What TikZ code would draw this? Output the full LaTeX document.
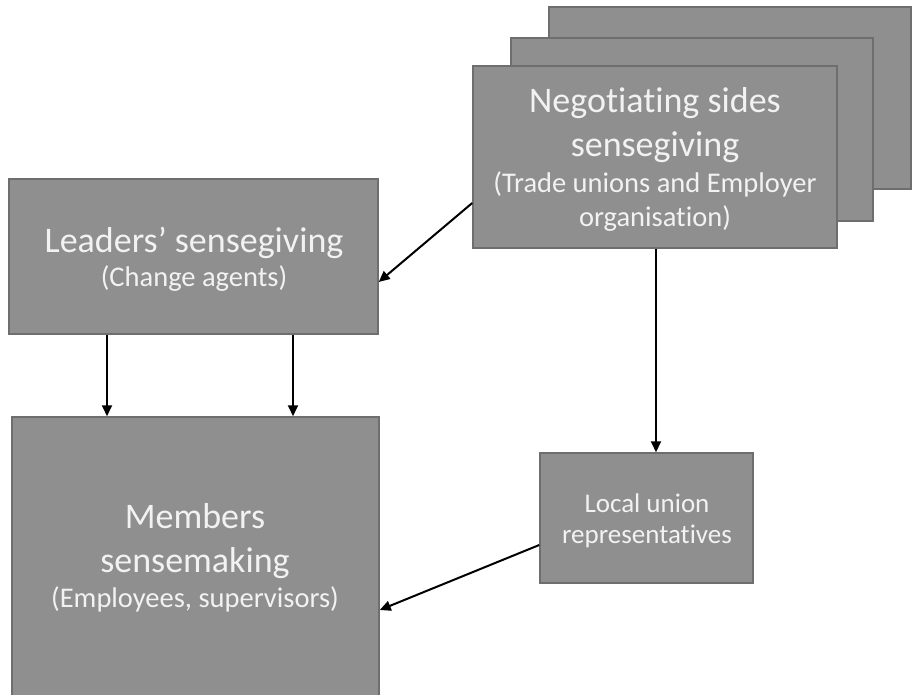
\documentclass[tikz,border=0pt]{standalone}
\usepackage{fontspec}
\setmainfont{Carlito}[Ligatures={NoCommon,NoContextual}]
\usepackage{tikz}
\usetikzlibrary{arrows.meta}
\definecolor{boxfill}{HTML}{8F8F8F}
\definecolor{boxline}{HTML}{6E6E6E}
\definecolor{boxtext}{HTML}{F2F2F2}

\begin{document}
\begin{tikzpicture}[x=1pt, y=-1pt, >={Triangle[length=11pt,width=10pt]},
  box/.style={draw=boxline, fill=boxfill, line width=1.5pt, inner sep=0pt},
  boxlabel/.style={text=boxtext, align=center, inner sep=0pt, anchor=base,
    font=\fontsize{36}{44}\selectfont},
  boxnote/.style={boxlabel, font=\fontsize{28.5}{35}\selectfont},
  link/.style={->, line width=2pt, black}]
  \useasboundingbox (0,0) rectangle (913,695);
  % Stack of negotiating sides (back to front)
  \node[box, minimum width=362pt, minimum height=182pt] (negback) at (730,98) {};
  \node[box, minimum width=362pt, minimum height=183pt] (negmid) at (692,129.5) {};
  \node[box, minimum width=364pt, minimum height=182pt] (neg) at (655,157) {};
  % base anchor = last line
  \node[boxlabel] (neglabel) at (655,157) {Negotiating sides\\ sensegiving};
  \node[boxnote] (negnote) at (655,227) {(Trade unions and Employer\\ organisation)};
  % Leaders and members
  \node[box, minimum width=369pt, minimum height=155pt] (leaders) at (193.5,256.5) {};
  \node[boxlabel] (leaderslabel) at (194,253) {Leaders’ sensegiving};
  \node[boxnote] (leadersnote) at (194,287) {(Change agents)};
  \node[box, minimum width=367pt, minimum height=283pt] (members) at (195.5,558.5) {};
  \node[boxlabel] (memberslabel) at (195,572) {Members\\ sensemaking};
  \node[boxnote] (membersnote) at (195,607) {(Employees, supervisors)};
  % Local union
  \node[box, minimum width=213pt, minimum height=130pt] (local) at (646.5,518) {};
  \node[boxnote, font=\fontsize{27}{31}\selectfont] (locallabel) at (647,543)
    {Local union\\ representatives};
  % Arrows
  \draw[link] ([yshift=-46pt]neg.west) -- ([yshift=-25.5pt]leaders.east);
  \draw[link] ([xshift=-86.5pt]leaders.south) -- ([xshift=-86.5pt]leaders.south |- members.north);
  \draw[link] ([xshift=99.5pt]leaders.south) -- ([xshift=99.5pt]leaders.south |- members.north);
  \draw[link] ([xshift=1pt]neg.south) -- ([xshift=1pt]neg.south |- local.north);
  \draw[link] ([yshift=-27pt]local.west) -- ([yshift=-51.5pt]members.east);
\end{tikzpicture}
\end{document}
